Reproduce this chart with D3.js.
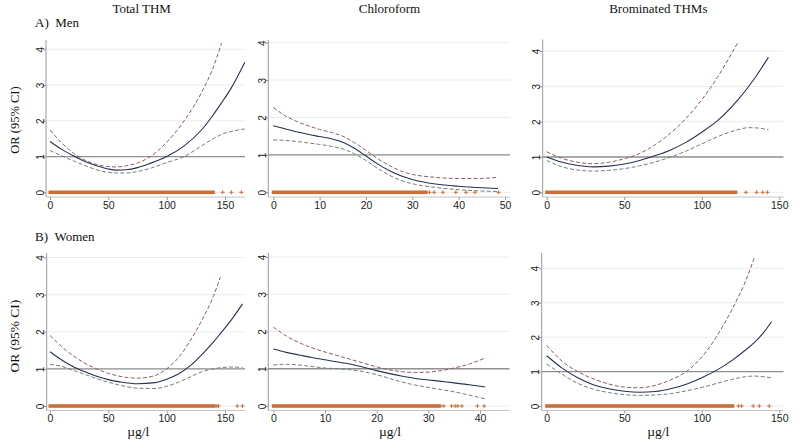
<!DOCTYPE html>
<html>
<head>
<meta charset="utf-8">
<script src="https://cdn.jsdelivr.net/npm/d3@7"></script>
<style>
  body { margin: 0; background: #fff; }
  svg { display: block; }
</style>
</head>
<body>
<script>
// column titles, row labels, axis labels
const colTitles = ["Total THM", "Chloroform", "Brominated THMs"];
const rowLabels = ["A)\u00a0\u00a0Men", "B)\u00a0\u00a0Women"];
const yTitle = "OR (95% CI)";
const xTitle = "\u00b5g/l";

const yTicks = [0, 1, 2, 3, 4];
const xTicksTHM = [0, 50, 100, 150];
const xTicksChloroMen = [0, 10, 20, 30, 40, 50];
const xTicksChloroWomen = [0, 10, 20, 30, 40];

// A) Men, total THM
const menTotalX    = [0, 10, 20, 30, 40, 50, 57, 65, 75, 85, 100, 115, 130, 140, 147, 155, 167];
const menTotalFit  = [1.42, 1.2, 1.02, 0.86, 0.74, 0.65, 0.62, 0.63, 0.69, 0.8, 1.0, 1.3, 1.75, 2.17, 2.5, 2.9, 3.64];
const menTotalHigh = [1.74, 1.38, 1.1, 0.9, 0.78, 0.72, 0.71, 0.74, 0.82, 0.98, 1.4, 2.0, 2.8, 3.5, 4.17, null, null];
const menTotalLow  = [1.17, 1.02, 0.88, 0.75, 0.63, 0.56, 0.54, 0.54, 0.58, 0.66, 0.83, 1.0, 1.3, 1.5, 1.62, 1.7, 1.77];
const menTotalRugEnd = 140;
const menTotalRugPts = [148, 155.5, 164];

// A) Men, chloroform
const menChloroX    = [0, 2.5, 5, 7.5, 10, 12.5, 15, 17.5, 20, 22.5, 25, 27.5, 30, 35, 40, 44, 48.5];
const menChloroFit  = [1.78, 1.7, 1.62, 1.55, 1.49, 1.43, 1.34, 1.18, 0.97, 0.76, 0.58, 0.44, 0.34, 0.22, 0.16, 0.13, 0.1];
const menChloroHigh = [2.27, 2.05, 1.9, 1.78, 1.68, 1.6, 1.5, 1.33, 1.12, 0.9, 0.72, 0.57, 0.48, 0.4, 0.37, 0.37, 0.4];
const menChloroLow  = [1.4, 1.39, 1.36, 1.32, 1.28, 1.23, 1.16, 1.03, 0.85, 0.64, 0.46, 0.32, 0.23, 0.13, 0.07, 0.04, 0.02];
const menChloroRugEnd = 33;
const menChloroRugPts = [33.7, 34.7, 36.6, 39.4, 41.6, 43.5, 48.6];

// A) Men, brominated THMs
const menBromX    = [0, 10, 20, 30, 40, 50, 60, 70, 80, 90, 100, 110, 123, 130, 136, 143];
const menBromFit  = [1.0, 0.85, 0.76, 0.72, 0.74, 0.8, 0.9, 1.04, 1.2, 1.42, 1.7, 2.02, 2.6, 2.98, 3.35, 3.82];
const menBromHigh = [1.15, 0.96, 0.85, 0.81, 0.85, 0.95, 1.1, 1.35, 1.68, 2.1, 2.62, 3.25, 4.22, null, null, null];
const menBromLow  = [0.9, 0.72, 0.63, 0.6, 0.62, 0.67, 0.75, 0.86, 1.0, 1.17, 1.37, 1.57, 1.77, 1.83, 1.82, 1.77];
const menBromRugEnd = 122;
const menBromRugPts = [128.5, 135.4, 139.3, 142.3];

// B) Women, total THM
const womenTotalX    = [0, 10, 20, 30, 40, 50, 60, 75, 90, 100, 110, 120, 130, 140, 146, 155, 165];
const womenTotalFit  = [1.46, 1.24, 1.06, 0.92, 0.8, 0.71, 0.65, 0.6, 0.63, 0.72, 0.86, 1.08, 1.38, 1.72, 1.95, 2.3, 2.75];
const womenTotalHigh = [1.9, 1.6, 1.35, 1.15, 1.0, 0.88, 0.8, 0.75, 0.82, 1.0, 1.3, 1.75, 2.3, 2.95, 3.47, null, null];
const womenTotalLow  = [1.12, 1.07, 0.96, 0.85, 0.74, 0.64, 0.56, 0.48, 0.47, 0.53, 0.64, 0.78, 0.92, 1.0, 1.03, 1.05, 1.04];
const womenTotalRugEnd = 140;
const womenTotalRugPts = [141.5, 143, 144.5, 160.5, 165];

// B) Women, chloroform
const womenChloroX    = [0, 2.5, 5, 7.5, 10, 12.5, 15, 17.5, 20, 22.5, 25, 27.5, 30, 32.5, 35, 38, 41];
const womenChloroFit  = [1.53, 1.44, 1.37, 1.3, 1.24, 1.18, 1.12, 1.04, 0.95, 0.87, 0.8, 0.74, 0.7, 0.66, 0.62, 0.57, 0.51];
const womenChloroHigh = [2.12, 1.88, 1.7, 1.56, 1.45, 1.35, 1.25, 1.15, 1.05, 0.97, 0.92, 0.9, 0.91, 0.95, 1.02, 1.13, 1.29];
const womenChloroLow  = [1.1, 1.12, 1.1, 1.06, 1.02, 1.0, 0.97, 0.92, 0.84, 0.74, 0.64, 0.56, 0.5, 0.44, 0.38, 0.29, 0.19];
const womenChloroRugEnd = 32;
const womenChloroRugPts = [32.4, 33, 34.5, 35.2, 35.7, 36.5, 39.5, 40.8];

// B) Women, brominated THMs
const womenBromX    = [0, 10, 20, 30, 40, 50, 60, 70, 80, 90, 100, 110, 120, 128, 134, 140, 145];
const womenBromFit  = [1.46, 1.1, 0.82, 0.62, 0.5, 0.43, 0.4, 0.42, 0.5, 0.63, 0.82, 1.05, 1.34, 1.62, 1.85, 2.14, 2.45];
const womenBromHigh = [1.76, 1.3, 1.0, 0.79, 0.64, 0.55, 0.53, 0.6, 0.76, 1.0, 1.42, 2.05, 2.85, 3.6, 4.32, null, null];
const womenBromLow  = [1.22, 0.92, 0.66, 0.49, 0.39, 0.33, 0.31, 0.32, 0.36, 0.44, 0.54, 0.66, 0.78, 0.85, 0.87, 0.85, 0.82];
const womenBromRugEnd = 120;
const womenBromRugPts = [123.6, 125.7, 133.2, 137.1, 143.5];

const W = 800, H = 444;
const colFit = "#27324f", colHigh = "#8e5d5f", colLow = "#6d846c";
const colRug = "#c8703a";

// panel placement (pixels) - Stata draws each panel with its own y range
const panels = [
  { x: menTotalX, fit: menTotalFit, hi: menTotalHigh, lo: menTotalLow, rugEnd: menTotalRugEnd, rugPts: menTotalRugPts,
    xt: xTicksTHM, xd: [0, 150], xr: [50, 225], yr: [192.3, 49.3], box: [46, 245, 40, 197] },
  { x: menChloroX, fit: menChloroFit, hi: menChloroHigh, lo: menChloroLow, rugEnd: menChloroRugEnd, rugPts: menChloroRugPts,
    xt: xTicksChloroMen, xd: [0, 50], xr: [273.3, 505], yr: [192.3, 42.7], box: [268.3, 510, 40, 197] },
  { x: menBromX, fit: menBromFit, hi: menBromHigh, lo: menBromLow, rugEnd: menBromRugEnd, rugPts: menBromRugPts,
    xt: xTicksTHM, xd: [0, 150], xr: [546.7, 779.3], yr: [192.3, 51], box: [542.7, 783.5, 39.5, 197] },
  { x: womenTotalX, fit: womenTotalFit, hi: womenTotalHigh, lo: womenTotalLow, rugEnd: womenTotalRugEnd, rugPts: womenTotalRugPts,
    xt: xTicksTHM, xd: [0, 150], xr: [50, 225], yr: [406, 257.5], box: [46.7, 245, 253, 410.5] },
  { x: womenChloroX, fit: womenChloroFit, hi: womenChloroHigh, lo: womenChloroLow, rugEnd: womenChloroRugEnd, rugPts: womenChloroRugPts,
    xt: xTicksChloroWomen, xd: [0, 40], xr: [273.3, 480], yr: [406, 257], box: [268.3, 509.5, 253, 410.5] },
  { x: womenBromX, fit: womenBromFit, hi: womenBromHigh, lo: womenBromLow, rugEnd: womenBromRugEnd, rugPts: womenBromRugPts,
    xt: xTicksTHM, xd: [0, 150], xr: [546.7, 779.3], yr: [406, 268.3], box: [541.7, 783.5, 253, 410.5] }
];

const svg = d3.select("body").append("svg")
  .attr("width", W)
  .attr("height", H)
  .style("font-family", "'Liberation Sans', Arial, sans-serif");

const plusMark = { draw: (ctx) => { ctx.moveTo(-2, 0); ctx.lineTo(2, 0); ctx.moveTo(0, -2); ctx.lineTo(0, 2); } };

panels.forEach((p) => {
  const xScale = d3.scaleLinear().domain(p.xd).range(p.xr);
  const yScale = d3.scaleLinear().domain([0, 4]).range(p.yr);
  const [left, right, top, bottom] = p.box;
  const g = svg.append("g");

  // gridlines
  g.selectAll(".grid")
    .data(yTicks)
    .enter()
    .append("line")
    .attr("x1", left).attr("x2", right)
    .attr("y1", (d) => yScale(d)).attr("y2", (d) => yScale(d))
    .attr("stroke", "#ececec")
    .attr("stroke-width", 1);

  // reference line at OR = 1
  g.append("line")
    .attr("x1", left).attr("x2", right)
    .attr("y1", yScale(1)).attr("y2", yScale(1))
    .attr("stroke", "#8f8f8f")
    .attr("stroke-width", 1.3);

  // rug of observations: dense run, then single crosses
  g.append("rect")
    .attr("x", xScale(0) - 1.5)
    .attr("y", yScale(0) - 1.8)
    .attr("width", xScale(p.rugEnd) - xScale(0) + 3)
    .attr("height", 3.6)
    .attr("fill", colRug);

  g.selectAll(".rug")
    .data(p.rugPts)
    .enter()
    .append("path")
    .attr("d", d3.symbol().type(plusMark))
    .attr("transform", (d) => "translate(" + xScale(d) + "," + yScale(0) + ")")
    .attr("stroke", colRug)
    .attr("stroke-width", 1)
    .attr("fill", "none");

  const line = d3.line()
    .defined((d) => d[1] != null)
    .x((d) => xScale(d[0]))
    .y((d) => yScale(d[1]))
    .curve(d3.curveMonotoneX);

  const series = [
    { v: p.lo, color: colLow, dash: "4,2.2", w: 1 },
    { v: p.hi, color: colHigh, dash: "4,2.2", w: 1 },
    { v: p.fit, color: colFit, dash: null, w: 1.1 }
  ];
  series.forEach((s) => {
    g.append("path")
      .datum(p.x.map((x, i) => [x, s.v[i]]))
      .attr("d", line)
      .attr("fill", "none")
      .attr("stroke", s.color)
      .attr("stroke-width", s.w)
      .attr("stroke-dasharray", s.dash);
  });

  // axis lines
  g.append("line")
    .attr("x1", left).attr("x2", left).attr("y1", top).attr("y2", bottom)
    .attr("stroke", "#9a9a9a").attr("stroke-width", 1);
  g.append("line")
    .attr("x1", left).attr("x2", right).attr("y1", bottom).attr("y2", bottom)
    .attr("stroke", "#c4c4c4").attr("stroke-width", 1);

  // y axis ticks and rotated labels
  const yAxis = d3.axisLeft(yScale).tickValues(yTicks).tickFormat(d3.format("d")).tickSize(3).tickPadding(3);
  const ya = g.append("g")
    .attr("transform", "translate(" + left + ",0)")
    .call(yAxis);
  ya.select(".domain").remove();
  ya.selectAll(".tick line").attr("stroke", "#9a9a9a");
  ya.selectAll(".tick text")
    .attr("x", null).attr("dy", null)
    .attr("text-anchor", "middle")
    .attr("dominant-baseline", "central")
    .attr("transform", "translate(-6,0) rotate(-90)")
    .attr("fill", "#222")
    .style("font-size", "10px");

  // x axis
  const xAxis = d3.axisBottom(xScale).tickValues(p.xt).tickFormat(d3.format("d")).tickSize(3).tickPadding(1.5);
  const xa = g.append("g")
    .attr("transform", "translate(0," + bottom + ")")
    .call(xAxis);
  xa.select(".domain").remove();
  xa.selectAll(".tick line").attr("stroke", "#9a9a9a");
  xa.selectAll(".tick text")
    .attr("fill", "#222")
    .style("font-size", "10.5px");
});

// titles and labels
const serif = "'Liberation Serif', 'Times New Roman', serif";
const titleX = [141.7, 389.5, 658.3];
svg.selectAll(".coltitle")
  .data(colTitles)
  .enter()
  .append("text")
  .attr("x", (d, i) => titleX[i])
  .attr("y", 12.7)
  .attr("text-anchor", "middle")
  .style("font-family", serif)
  .style("font-size", "13px")
  .attr("fill", "#111")
  .text((d) => d);

const rowY = [27.3, 240.7];
svg.selectAll(".rowlabel")
  .data(rowLabels)
  .enter()
  .append("text")
  .attr("x", 35)
  .attr("y", (d, i) => rowY[i])
  .style("font-family", serif)
  .style("font-size", "13px")
  .attr("fill", "#111")
  .text((d) => d);

[120, 336].forEach((cy, i) => {
  svg.append("text")
    .attr("transform", "translate(14.5," + cy + ") rotate(-90)")
    .attr("text-anchor", "middle")
    .attr("dominant-baseline", "central")
    .style("font-family", serif)
    .style("font-size", i === 0 ? "12.5px" : "13.5px")
    .attr("fill", "#111")
    .text(yTitle);
});

svg.selectAll(".xtitle")
  .data([138.3, 390, 658.3])
  .enter()
  .append("text")
  .attr("x", (d) => d)
  .attr("y", 436)
  .attr("text-anchor", "middle")
  .style("font-family", serif)
  .style("font-size", "13.5px")
  .attr("fill", "#111")
  .text(xTitle);
</script>
</body>
</html>
